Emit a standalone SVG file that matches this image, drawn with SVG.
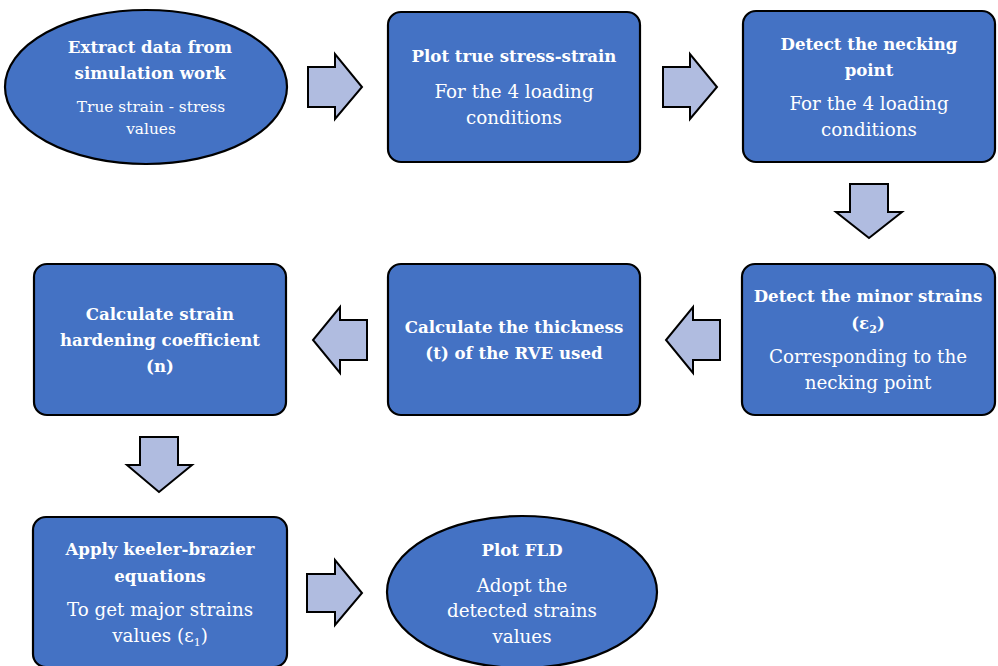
<svg xmlns="http://www.w3.org/2000/svg" width="998" height="666" viewBox="0 0 998 666">
<style>
.n{fill:#4472C4;stroke:#000;stroke-width:2.2}
.a{fill:#B0BCE0;stroke:#000;stroke-width:2;stroke-linejoin:miter}
text{font-family:"DejaVu Serif","Liberation Serif",serif;fill:#fff;text-anchor:middle}
.t{font-weight:bold;font-size:16.6px}
.b{font-size:18.3px}
.s{font-size:15.4px}
</style>
<rect width="998" height="666" fill="#fff"/>
<g id="connectors">
<path class="a" d="M308,67 H335 V54 L362,87 L335,119 V107 H308 Z"/>
<path class="a" d="M663,67 H690 V54 L717,87 L690,119 V107 H663 Z"/>
<path class="a" d="M850,184 H888 V212 H902 L869,238 L836,212 H850 Z"/>
<path class="a" d="M720,320 H693 V307 L666,340 L693,373 V360 H720 Z"/>
<path class="a" d="M367,320 H340 V307 L313,340 L340,373 V360 H367 Z"/>
<path class="a" d="M140,437 H178 V465 H192 L159,492 L127,465 H140 Z"/>
<path class="a" d="M307,574 H335 V560 L362,593 L335,625 V612 H307 Z"/>
</g>
<g id="n1">
<ellipse class="n" cx="146" cy="87" rx="141" ry="77"/>
<text class="t" x="150" y="53">Extract data from</text>
<text class="t" x="150" y="79">simulation work</text>
<text class="s" x="151" y="112">True strain - stress</text>
<text class="s" x="151" y="134">values</text>
</g>
<g id="n2">
<rect class="n" x="388" y="12" width="252" height="150" rx="13"/>
<text class="t" x="514" y="62">Plot true stress-strain</text>
<text class="b" x="514" y="98">For the 4 loading</text>
<text class="b" x="514" y="124">conditions</text>
</g>
<g id="n3">
<rect class="n" x="743" y="11" width="252" height="151" rx="13"/>
<text class="t" x="869" y="50">Detect the necking</text>
<text class="t" x="869" y="76">point</text>
<text class="b" x="869" y="110">For the 4 loading</text>
<text class="b" x="869" y="136">conditions</text>
</g>
<g id="n4">
<rect class="n" x="742" y="264" width="253" height="151" rx="13"/>
<text class="t" x="868" y="302">Detect the minor strains</text>
<text class="t" x="868" y="329">(ε<tspan font-size="11" dy="4">2</tspan><tspan dy="-4">)</tspan></text>
<text class="b" x="868" y="363">Corresponding to the</text>
<text class="b" x="868" y="389">necking point</text>
</g>
<g id="n5">
<rect class="n" x="388" y="264" width="252" height="151" rx="13"/>
<text class="t" x="514" y="333">Calculate the thickness</text>
<text class="t" x="514" y="359">(t) of the RVE used</text>
</g>
<g id="n6">
<rect class="n" x="34" y="264" width="252" height="151" rx="13"/>
<text class="t" x="160" y="320">Calculate strain</text>
<text class="t" x="160" y="346">hardening coefficient</text>
<text class="t" x="160" y="372">(n)</text>
</g>
<g id="n7">
<rect class="n" x="33" y="517" width="254" height="150" rx="13"/>
<text class="t" x="160" y="555">Apply keeler-brazier</text>
<text class="t" x="160" y="582">equations</text>
<text class="b" x="160" y="616">To get major strains</text>
<text class="b" x="160" y="642">values (ε<tspan font-size="11" dy="4">1</tspan><tspan dy="-4">)</tspan></text>
</g>
<g id="n8">
<ellipse class="n" cx="522" cy="592" rx="135" ry="76"/>
<text class="t" x="522" y="556">Plot FLD</text>
<text class="b" x="522" y="592">Adopt the</text>
<text class="b" x="522" y="617">detected strains</text>
<text class="b" x="522" y="643">values</text>
</g>
</svg>
